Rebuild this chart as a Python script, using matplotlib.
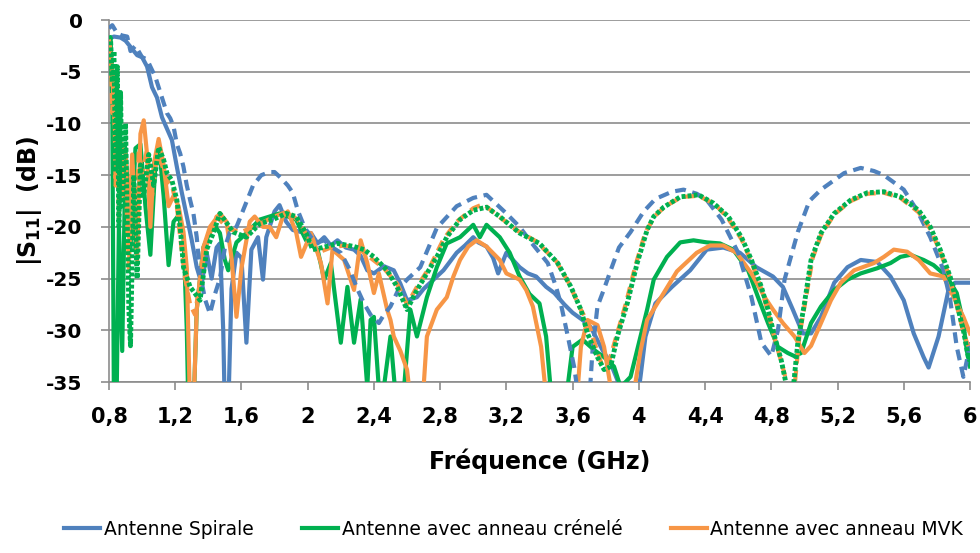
import matplotlib
matplotlib.use("Agg")
import matplotlib.pyplot as plt

# --- data (frequency in GHz, |S11| in dB) ---
spirale_f = [0.80, 0.83, 0.87, 0.90, 0.93, 0.97, 1.00, 1.03, 1.06, 1.09, 1.12, 1.15, 1.18, 1.21,
             1.24, 1.27, 1.30, 1.33, 1.36, 1.39, 1.42, 1.45, 1.47, 1.49, 1.50, 1.52, 1.54, 1.57,
             1.60, 1.63, 1.66, 1.70, 1.73, 1.75, 1.80, 1.83, 1.87, 1.91, 1.96, 2.02, 2.06, 2.10,
             2.14, 2.18, 2.23, 2.28, 2.32, 2.36, 2.40, 2.46, 2.52, 2.56, 2.60, 2.66, 2.70, 2.74,
             2.82, 2.90, 2.95, 3.00, 3.03, 3.08, 3.12, 3.15, 3.20, 3.24, 3.28, 3.33, 3.38, 3.44,
             3.49, 3.55, 3.60, 3.66, 3.71, 3.78, 3.83, 3.87, 3.92, 3.98, 4.01, 4.04, 4.10, 4.20,
             4.31, 4.41, 4.51, 4.61, 4.71, 4.81, 4.87, 4.93, 4.99, 5.04, 5.10, 5.18, 5.26, 5.34,
             5.44, 5.52, 5.60, 5.66, 5.72, 5.75, 5.81, 5.87, 5.91, 6.00]
spirale_db = [-1.8, -1.6, -1.7, -2.0, -2.6, -3.4, -3.6, -4.5, -6.5, -7.5, -9.4, -10.5, -11.6, -14.2,
              -16.7, -19.0, -21.3, -23.9, -25.5, -22.5, -25.0, -22.0, -21.6, -30.0, -38, -38, -26, -22.5,
              -23, -31.2, -22.2, -21, -25.1, -21, -18.5, -17.9, -19.5, -20.3, -20.5, -20.6, -21.6, -21.0,
              -21.8, -21.3, -22.0, -22.2, -22.8, -24.2, -24.5, -23.8, -24.2, -25.5, -27.1, -26.8, -26.0, -25.4,
              -24.2, -22.5, -21.8, -21.0, -21.5, -21.9, -23.0, -24.5, -22.5, -23.2, -23.9, -24.5, -24.8, -25.8,
              -26.4, -27.5, -28.3, -29.0, -29.7, -31.9, -33.2, -34.8, -38, -38, -34.5, -30.6, -27.4, -25.8,
              -24.2, -22.2, -22.0, -22.5, -23.9, -24.8, -25.8, -28.0, -30.3, -30.3, -28.7, -25.4, -23.9, -23.2,
              -23.4, -24.8, -27.1, -30.3, -32.6, -33.6, -30.6, -26.1, -25.4, -25.4]

spirale_mes_f = [0.80, 0.82, 0.85, 0.88, 0.91, 0.93, 0.96, 1.00, 1.03, 1.05, 1.08, 1.11, 1.13, 1.15,
                 1.17, 1.19, 1.21, 1.23, 1.25, 1.27, 1.29, 1.31, 1.33, 1.35, 1.38, 1.41, 1.44, 1.47,
                 1.50, 1.53, 1.57, 1.62, 1.67, 1.72, 1.77, 1.80, 1.84, 1.88, 1.91, 1.94, 1.98, 2.02,
                 2.06, 2.10, 2.15, 2.20, 2.25, 2.30, 2.34, 2.38, 2.43, 2.46, 2.50, 2.55, 2.60, 2.68,
                 2.78, 2.90, 3.00, 3.08, 3.12, 3.20, 3.28, 3.35, 3.45, 3.50, 3.53, 3.57, 3.61, 3.64,
                 3.70, 3.72, 3.75, 3.79, 3.83, 3.88, 3.95, 4.03, 4.10, 4.20, 4.27, 4.35, 4.41, 4.50,
                 4.60, 4.68, 4.74, 4.80, 4.84, 4.88, 4.96, 5.03, 5.10, 5.24, 5.34, 5.42, 5.48, 5.60,
                 5.68, 5.76, 5.84, 5.88, 5.92, 5.96, 5.98, 6.00]
spirale_mes_db = [-0.8, -0.5, -1.3, -1.5, -1.6, -3.0, -2.5, -3.6, -3.8, -4.5, -5.5, -7.0, -8.0, -9.0,
                  -9.5, -10.3, -12.0, -12.9, -14.2, -16.0, -17.4, -18.7, -21.0, -24.5, -27.0, -28.4, -26.5, -25.0,
                  -22.0, -20.5, -20.0, -18.0, -16.0, -15.0, -14.7, -14.7, -15.3, -16.0, -16.7, -18.4, -20.0, -21.0,
                  -21.5, -21.3, -22.0, -22.5, -24.0, -26.0, -27.4, -28.5, -29.3, -28.5, -27.7, -26.0, -25.1, -23.9,
                  -20.1, -18.0, -17.2, -16.9, -17.5, -18.7, -20.0, -21.5, -23.5, -25.8, -27.5, -30.5, -33.6, -37,
                  -37, -32, -27.7, -26.0, -24.2, -22.0, -20.5, -18.5, -17.3, -16.6, -16.4, -16.8, -17.4, -19.3,
                  -22.5, -26.8, -31.2, -32.5, -30.0, -25.1, -20.5, -17.5, -16.4, -14.8, -14.3, -14.6, -15.0, -16.4,
                  -18.4, -21.0, -24.2, -27.0, -31.6, -34.5, -33.0, -31.0]

crenele_f = [0.80, 0.81, 0.82, 0.83, 0.845, 0.86, 0.88, 0.90, 0.93, 0.96, 0.99, 1.02, 1.05, 1.08,
             1.10, 1.13, 1.16, 1.19, 1.22, 1.25, 1.27, 1.28, 1.31, 1.33, 1.37, 1.43, 1.47, 1.50,
             1.52, 1.57, 1.63, 1.71, 1.83, 1.93, 1.99, 2.06, 2.10, 2.14, 2.20, 2.24, 2.28, 2.32,
             2.36, 2.38, 2.40, 2.44, 2.50, 2.54, 2.58, 2.62, 2.66, 2.72, 2.78, 2.84, 2.92, 3.00,
             3.04, 3.08, 3.16, 3.22, 3.28, 3.34, 3.40, 3.44, 3.48, 3.55, 3.60, 3.66, 3.73, 3.79,
             3.85, 3.89, 3.95, 4.01, 4.05, 4.09, 4.17, 4.25, 4.33, 4.41, 4.49, 4.57, 4.66, 4.72,
             4.78, 4.84, 4.90, 4.94, 4.98, 5.04, 5.10, 5.18, 5.26, 5.34, 5.44, 5.52, 5.58, 5.64,
             5.72, 5.78, 5.86, 5.92, 5.96, 5.98, 6.00]
crenele_db = [-2.0, -1.7, -8, -38, -38, -19.8, -32, -12.4, -22, -12.4, -12.0, -18, -22.7, -14,
              -11.8, -17, -23.7, -19.5, -18.9, -21, -30, -38, -38, -28, -22, -19.7, -20.6, -23.2,
              -24.2, -21.5, -20.6, -19.3, -18.7, -19.3, -21.3, -22.2, -25.1, -23.5, -31.2, -25.8, -31.2, -27.0,
              -35.5, -29, -28.7, -38, -30.6, -38, -36, -28.0, -30.6, -26.8, -23.9, -21.6, -21.0, -19.8,
              -21.0, -19.8, -21.0, -22.5, -24.8, -26.5, -27.4, -30.6, -38, -38, -31.6, -30.9, -31.9, -32.6,
              -33.5, -35.5, -34.5, -30.6, -28.0, -25.1, -22.9, -21.5, -21.3, -21.5, -21.6, -22.2, -24.2, -26.8,
              -29.3, -31.6, -32.2, -32.5, -32.2, -29.3, -27.7, -26.1, -25.1, -24.5, -24.0, -23.5, -22.9, -22.7,
              -23.2, -23.7, -24.8, -26.4, -29.3, -31.9, -33.5]

crenele_mes_f = [0.80, 0.81, 0.82, 0.83, 0.84, 0.85, 0.86, 0.87, 0.88, 0.90, 0.92, 0.93, 0.95, 0.97,
                 0.99, 1.01, 1.04, 1.07, 1.10, 1.13, 1.15, 1.18, 1.21, 1.23, 1.25, 1.29, 1.35, 1.39,
                 1.43, 1.47, 1.55, 1.63, 1.71, 1.79, 1.87, 1.93, 1.99, 2.03, 2.09, 2.18, 2.28, 2.34,
                 2.40, 2.48, 2.54, 2.60, 2.66, 2.72, 2.78, 2.84, 2.92, 3.00, 3.08, 3.16, 3.28, 3.40,
                 3.51, 3.59, 3.65, 3.69, 3.75, 3.79, 3.83, 3.87, 3.93, 3.99, 4.05, 4.09, 4.15, 4.25,
                 4.36, 4.45, 4.54, 4.62, 4.68, 4.74, 4.78, 4.82, 4.86, 4.90, 4.93, 4.96, 5.00, 5.04,
                 5.10, 5.18, 5.28, 5.38, 5.48, 5.58, 5.69, 5.76, 5.82, 5.88, 5.92, 5.96, 5.99, 6.00]
crenele_mes_db = [-1.5, -2.0, -6.0, -3.0, -14.7, -4.5, -20, -7, -18, -10, -28, -31.5, -15, -25,
                  -14, -17, -13, -16, -12.3, -13.5, -14.8, -15.5, -17.4, -20.0, -23.9, -25.8, -27.1, -22.2,
                  -20.6, -18.7, -20.5, -21.0, -19.7, -19.3, -18.7, -19.0, -20.6, -22.2, -22.0, -21.6, -21.9, -22.2,
                  -22.9, -24.2, -25.8, -28.0, -26.1, -24.5, -22.9, -21.0, -19.3, -18.4, -18.1, -19.0, -20.6, -21.6,
                  -23.5, -25.8, -28.0, -30.3, -32.6, -33.8, -33.5, -30.6, -27.4, -23.5, -20.3, -19.0, -18.1, -17.1,
                  -16.9, -17.7, -19.0, -21.0, -23.2, -25.8, -28.0, -30.6, -32.9, -36, -36, -31.2, -27.4, -23.2,
                  -20.6, -18.7, -17.4, -16.7, -16.6, -17.1, -18.4, -20.0, -22.2, -24.8, -27.4, -30.0, -32.6, -33.0]

mvk_f = [0.80, 0.82, 0.84, 0.86, 0.88, 0.90, 0.92, 0.94, 0.97, 0.99, 1.01, 1.03, 1.05, 1.07,
         1.10, 1.13, 1.16, 1.19, 1.22, 1.25, 1.27, 1.29, 1.31, 1.33, 1.37, 1.41, 1.47, 1.51,
         1.54, 1.57, 1.60, 1.65, 1.68, 1.73, 1.77, 1.81, 1.85, 1.88, 1.93, 1.96, 2.02, 2.08,
         2.12, 2.15, 2.22, 2.28, 2.32, 2.36, 2.40, 2.43, 2.48, 2.50, 2.52, 2.56, 2.60, 2.63,
         2.69, 2.72, 2.78, 2.84, 2.88, 2.92, 2.97, 3.02, 3.08, 3.16, 3.20, 3.28, 3.32, 3.36,
         3.41, 3.45, 3.62, 3.65, 3.69, 3.75, 3.79, 3.83, 3.97, 4.01, 4.05, 4.15, 4.23, 4.35,
         4.43, 4.51, 4.59, 4.68, 4.76, 4.81, 4.87, 4.94, 5.00, 5.04, 5.10, 5.16, 5.22, 5.30,
         5.42, 5.48, 5.54, 5.62, 5.69, 5.76, 5.84, 5.92, 5.96, 6.00]
mvk_db = [-2.0, -5.0, -12.0, -10.0, -17.0, -13.0, -21.0, -13.0, -23.2, -11.0, -9.7, -13, -20.0, -14.0,
          -11.5, -14.0, -18.0, -17.0, -18.0, -20.5, -24.0, -38, -38, -28, -22, -20, -18.7, -19.5,
          -23, -28.7, -24, -19.5, -19.0, -20.0, -20.0, -21.0, -19.0, -18.5, -20.5, -22.9, -20.6, -23.5,
          -27.4, -22.2, -23.2, -26.1, -21.3, -23.5, -26.4, -24.5, -28.0, -29, -30.6, -32, -33.8, -38,
          -38, -30.6, -28.0, -26.8, -24.8, -23.2, -21.9, -21.3, -21.9, -23.2, -24.5, -25.1, -26.1, -27.7,
          -31.6, -38, -38, -31.6, -29.0, -29.5, -31.6, -35.5, -36, -32, -29.0, -26.4, -24.3, -22.5,
          -21.8, -21.8, -22.5, -24.5, -26.8, -28.0, -29.3, -30.6, -32.2, -31.5, -29.3, -27.1, -25.4, -24.2,
          -23.5, -22.9, -22.2, -22.4, -23.2, -24.5, -24.8, -27.4, -28.7, -30.3]

mvk_mes_f = [0.80, 0.81, 0.82, 0.83, 0.84, 0.85, 0.86, 0.88, 0.90, 0.92, 0.94, 0.96, 0.98, 1.00,
             1.03, 1.06, 1.09, 1.12, 1.15, 1.18, 1.21, 1.23, 1.26, 1.29, 1.32, 1.36, 1.40, 1.45,
             1.52, 1.60, 1.70, 1.80, 1.88, 1.95, 2.00, 2.06, 2.14, 2.22, 2.30, 2.38, 2.46, 2.54,
             2.60, 2.66, 2.74, 2.82, 2.90, 3.00, 3.06, 3.14, 3.26, 3.38, 3.50, 3.58, 3.64, 3.70,
             3.74, 3.78, 3.82, 3.86, 3.92, 3.98, 4.04, 4.10, 4.16, 4.26, 4.36, 4.46, 4.54, 4.62,
             4.68, 4.74, 4.78, 4.82, 4.86, 4.90, 4.94, 4.97, 5.01, 5.05, 5.10, 5.18, 5.28, 5.38,
             5.48, 5.58, 5.69, 5.76, 5.82, 5.88, 5.92, 5.96, 6.00]
mvk_mes_db = [-2, -3, -9, -5, -16, -8, -19, -12, -15, -24, -14, -22, -12.5, -15,
              -12.5, -17, -13, -14, -15.5, -16, -18, -21, -25, -27.5, -28.5, -24, -21, -19,
              -20.2, -20.5, -19.8, -19.0, -18.5, -19.5, -21, -22.5, -22.0, -21.8, -22.0, -23.0, -24.0, -25.5,
              -27.5, -25.8, -23.8, -21.2, -19.5, -18.2, -17.8, -18.8, -20.3, -21.4, -23.3, -25.5, -27.7, -29.5,
              -31.6, -33.5, -33.0, -30.8, -27.5, -23.7, -20.5, -18.9, -18.0, -17.1, -17.0, -17.8, -19.2, -21.2,
              -23.4, -26.0, -28.2, -30.8, -33.0, -35.5, -35.5, -30.5, -26.8, -23.0, -20.8, -18.8, -17.5, -16.8,
              -16.7, -17.2, -18.6, -20.2, -22.4, -25.0, -27.6, -30.2, -32.0]

x_ticks = [0.8, 1.2, 1.6, 2.0, 2.4, 2.8, 3.2, 3.6, 4.0, 4.4, 4.8, 5.2, 5.6, 6.0]
x_ticklabels = ["0,8", "1,2", "1,6", "2", "2,4", "2,8", "3,2", "3,6", "4", "4,4", "4,8", "5,2", "5,6", "6"]
y_ticks = [0, -5, -10, -15, -20, -25, -30, -35]

# only the first legend row is readable in the reference, the second one is cut by the border
labels = ["Antenne Spirale", "Antenne avec anneau crénelé", "Antenne avec anneau MVK"]

BLUE = "#4F81BD"
GREEN = "#00B050"
ORANGE = "#F79646"
GRID = "#8C8C8C"

plt.rcParams["font.family"] = ["DejaVu Sans"]
plt.rcParams["mathtext.fontset"] = "dejavusans"
# tick geometry set up front so every tick picks it up
plt.rcParams.update({
    "xtick.direction": "out", "ytick.direction": "out",
    "xtick.major.size": 6, "ytick.major.size": 6,
    "xtick.major.width": 1.2, "ytick.major.width": 1.2,
    "xtick.major.pad": 12, "ytick.major.pad": 13,
    "xtick.color": GRID, "ytick.color": GRID,
    "xtick.labelcolor": "black", "ytick.labelcolor": "black",
    "xtick.labelsize": 15, "ytick.labelsize": 14.5,
})

fig = plt.figure(figsize=(9.8, 5.53), dpi=100)
ax = fig.add_axes([0.1112, 0.3092, 0.8786, 0.6546])

lw = 3.0
dash = (0, (2.6, 1.6))
h_bs, = ax.plot(spirale_f, spirale_db, color=BLUE, lw=lw, zorder=3)
h_gs, = ax.plot(crenele_f, crenele_db, color=GREEN, lw=lw, zorder=3)
h_os, = ax.plot(mvk_f, mvk_db, color=ORANGE, lw=lw, zorder=3)
h_bd, = ax.plot(spirale_mes_f, spirale_mes_db, color=BLUE, lw=lw, ls=dash, zorder=4)
h_od, = ax.plot(mvk_mes_f, mvk_mes_db, color=ORANGE, lw=lw, ls=dash, zorder=4)
h_gd, = ax.plot(crenele_mes_f, crenele_mes_db, color=GREEN, lw=lw + 0.5, ls=(0, (0.8, 0.45)),
                zorder=5)

ax.set_xlim(0.8, 6.0)
ax.set_ylim(-35, 0)
ax.set_xticks(x_ticks)
ax.set_xticklabels(x_ticklabels, fontweight="bold")
ax.set_yticks(y_ticks)
ax.set_yticklabels([str(v) for v in y_ticks], fontweight="bold")

ax.grid(axis="y", color=GRID, lw=1.2, zorder=0)
ax.set_axisbelow(True)
for side in ["top", "right"]:
    ax.spines[side].set_visible(False)
for side in ["left", "bottom"]:
    ax.spines[side].set_color(GRID)
    ax.spines[side].set_linewidth(1.2)

ax.set_xlabel("Fréquence (GHz)", fontsize=17, fontweight="bold")
ax.xaxis.set_label_coords(0.5, -0.185)
ax.set_ylabel(r"$\mathbf{|S_{11}|\ \ (dB)}$", fontsize=17)
ax.yaxis.set_label_coords(-0.076, 0.5)

handles = [h_bs, h_bd, h_gs, h_gd, h_os, h_od]
legend_labels = [labels[0], "", labels[1], "", labels[2], ""]
fig.legend(handles=handles, labels=legend_labels, ncol=3,
           loc="upper left", bbox_to_anchor=(0.058, 0.074), frameon=False,
           fontsize=13.5, handlelength=1.9, handletextpad=0.2, columnspacing=2.6,
           labelspacing=0.4, borderaxespad=0)

fig.savefig("out.png", dpi=100)
